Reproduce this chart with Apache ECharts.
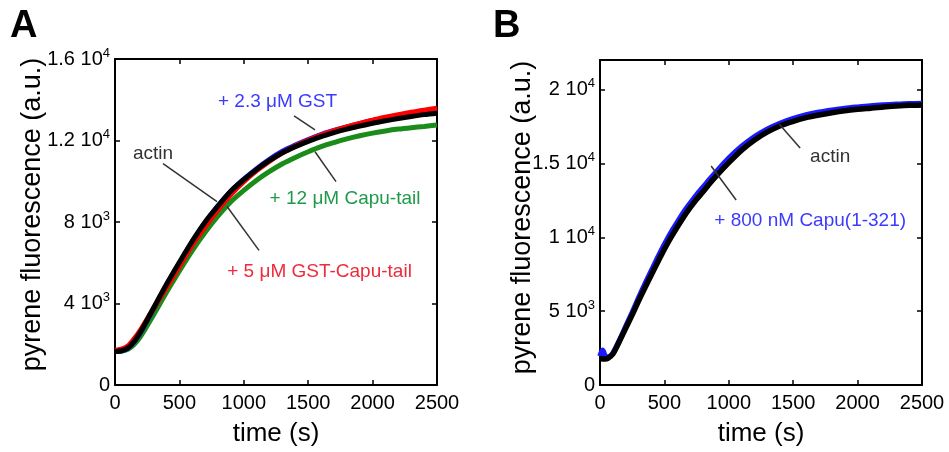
<!DOCTYPE html>
<html><head><meta charset="utf-8">
<script src="https://cdn.jsdelivr.net/npm/echarts@6/dist/echarts.min.js"></script>
<style>html,body{margin:0;padding:0;background:#fff}#c{width:949px;height:452px}</style>
</head><body><div id="c"></div>
<script>
// ---------- Panel A data ----------
const timeA = [0,50,100,150,200,300,400,500,600,700,800,900,1000,1100,1200,1300,1400,1500,1600,1700,1800,1900,2000,2100,2200,2300,2400,2500];
const actinA    = [1650,1680,1820,2150,2620,3790,4940,6020,7060,8000,8790,9520,10080,10580,11020,11400,11700,11960,12190,12390,12560,12710,12850,12970,13080,13180,13270,13340];
const gstA      = [1650,1680,1810,2130,2600,3740,4900,5980,7040,7970,8790,9510,10100,10620,11080,11470,11780,12050,12290,12490,12670,12830,12980,13110,13230,13340,13440,13520];
const gstCapuA  = [1700,1760,1920,2280,2720,3760,4780,5820,6860,7760,8600,9350,9980,10520,10990,11390,11730,12010,12260,12480,12670,12840,13000,13140,13270,13390,13490,13580];
const capuA     = [1650,1660,1750,2000,2400,3450,4550,5600,6600,7500,8300,9000,9550,10050,10480,10860,11170,11450,11700,11900,12080,12230,12360,12470,12560,12630,12690,12760];
const yTicksA = [0,4000,8000,12000,16000];
const yTickTextA = [['0',''],['4 10','3'],['8 10','3'],['1.2 10','4'],['1.6 10','4']];

// ---------- Panel B data ----------
const timeB = [0,20,40,60,100,150,200,250,300,350,400,450,500,550,600,650,700,750,800,850,900,1000,1100,1200,1300,1400,1500,1600,1700,1800,1900,2000,2100,2200,2300,2400,2500];
const actinB = [1800,1760,1760,1800,2100,2950,3850,4750,5700,6600,7480,8350,9200,9980,10700,11380,12000,12570,13080,13620,14120,15050,15900,16580,17130,17550,17850,18100,18280,18430,18560,18660,18740,18820,18880,18930,18960];
const capuB  = [1950,2350,1950,1900,2150,3000,3950,4900,5900,6850,7750,8650,9500,10300,11000,11700,12300,12870,13380,13900,14400,15350,16150,16800,17320,17720,18030,18280,18460,18600,18720,18810,18890,18950,19000,19040,19060];
const yTicksB = [0,5000,10000,15000,20000];
const yTickTextB = [['0',''],['5 10','3'],['1 10','4'],['1.5 10','4'],['2 10','4']];

const xTicks = [0,500,1000,1500,2000,2500];

// annotations: [text, colour, text centre, leader from, leader to] (data coordinates)
const annA = [
  ['+ 2.3 μM GST', '#3b3bff', [1262,13896], [1390,13211], [1553,12526]],
  ['actin', '#333333', [295,11352], [373,10862], [792,9003]],
  ['+ 12 μM Capu-tail', '#1f9a4a', [1786,9150], [1716,9982], [1553,11450]],
  ['+ 5 μM GST-Capu-tail', '#ee2b3b', [1588,5578], [1118,6606], [870,8758]]
];
const annB = [
  ['actin', '#333333', [1787,15434], [1391,17668], [1554,16043]],
  ['+ 800 nM Capu(1-321)', '#3b3bff', [1632,11101], [863,14825], [1057,12523]]
];

const FONT = 'Liberation Sans, Arial, sans-serif';
const zip = (t, v) => t.map((x, i) => [x, v[i]]);

function yFormatter(ticks, texts) {
  return function (v) {
    const i = ticks.indexOf(v);
    if (i < 0) return '';
    const p = texts[i];
    return p[1] ? '{b|' + p[0] + '}{s|' + p[1] + '}' : '{b|' + p[0] + '}';
  };
}
const rich = {
  b: {fontSize: 20, fontFamily: FONT, color: '#000'},
  s: {fontSize: 13, fontFamily: FONT, color: '#000', padding: [0, 0, 12, 0]}
};

function axesFor(g, ymax, yint, yTicks, yText, yGap, yPad) {
  const line = {show: true, lineStyle: {color: '#000', width: 2}, onZero: false};
  const tick = {show: true, inside: true, length: 5, lineStyle: {color: '#000', width: 1.5}};
  return {
    x: [
      {gridIndex: g, type: 'value', min: 0, max: 2500, interval: 500, position: 'bottom',
       axisLine: line, axisTick: tick, splitLine: {show: false},
       axisLabel: {fontSize: 20, fontFamily: FONT, color: '#000', margin: 8,
                   formatter: v => xTicks.indexOf(v) >= 0 ? String(v) : ''},
       name: 'time (s)', nameLocation: 'middle', nameGap: 36, nameMoveOverlap: false,
       nameTextStyle: {fontSize: 26, fontFamily: FONT, color: '#000'}},
      {gridIndex: g, type: 'value', min: 0, max: 2500, interval: 500, position: 'top',
       axisLine: line, axisTick: tick, splitLine: {show: false}, axisLabel: {show: false}}
    ],
    y: [
      {gridIndex: g, type: 'value', min: 0, max: ymax, interval: yint, position: 'left',
       axisLine: line, axisTick: tick, splitLine: {show: false},
       axisLabel: {margin: 5, formatter: yFormatter(yTicks, yText), rich: rich},
       name: 'pyrene fluorescence (a.u.)', nameLocation: 'middle', nameGap: yGap, nameMoveOverlap: false,
       nameTextStyle: {fontSize: 27, fontFamily: FONT, color: '#000', padding: [0, 0, 0, yPad]}},
      {gridIndex: g, type: 'value', min: 0, max: ymax, interval: yint, position: 'right',
       axisLine: line, axisTick: tick, splitLine: {show: false}, axisLabel: {show: false}}
    ]
  };
}

const A = axesFor(0, 16000, 4000, yTicksA, yTickTextA, 69, 15);
const B = axesFor(1, 22000, 5000, yTicksB, yTickTextB, 64, 10);

function annSeries(ann, xi, yi) {
  return {
    type: 'line', xAxisIndex: xi, yAxisIndex: yi, data: [], silent: true, z: 10,
    markLine: {silent: true, symbol: 'none', animation: false, label: {show: false},
      lineStyle: {color: '#333', width: 1.5, type: 'solid'},
      data: ann.map(a => [{coord: a[3]}, {coord: a[4]}])},
    markPoint: {silent: true, symbol: 'circle', symbolSize: 0, animation: false,
      data: ann.map(a => ({coord: a[2], value: 0,
        label: {show: true, position: 'inside', formatter: a[0], color: a[1], fontSize: 19, fontFamily: FONT}}))}
  };
}

function trace(t, v, color, xi, yi, w) {
  return {type: 'line', xAxisIndex: xi, yAxisIndex: yi, data: zip(t, v), showSymbol: false,
    smooth: 0.3,
    lineStyle: {color: color, width: w}, itemStyle: {color: color}, animation: false, silent: true};
}

const chart = echarts.init(document.getElementById('c'), null, {renderer: 'canvas'});
chart.setOption({
  backgroundColor: '#fff',
  animation: false,
  grid: [
    {left: 115, top: 59, width: 322, height: 327},
    {left: 600, top: 60, width: 322, height: 325}
  ],
  xAxis: [A.x[0], A.x[1], B.x[0], B.x[1]],
  yAxis: [A.y[0], A.y[1], B.y[0], B.y[1]],
  graphic: [
    {type: 'text', left: 10, top: 8, style: {text: 'A', font: 'bold 38px ' + FONT, fill: '#000'}},
    {type: 'text', left: 493, top: 8, style: {text: 'B', font: 'bold 38px ' + FONT, fill: '#000'}}
  ],
  series: [
    trace(timeA, capuA, '#1a8c1a', 0, 0, 5),
    trace(timeA, gstA, '#1a1aff', 0, 0, 5),
    trace(timeA, gstCapuA, '#ff0000', 0, 0, 5),
    trace(timeA, actinA, '#000000', 0, 0, 5),
    annSeries(annA, 0, 0),
    trace(timeB, capuB, '#1a1aff', 2, 2, 5.5),
    trace(timeB, actinB, '#000000', 2, 2, 5.5),
    annSeries(annB, 2, 2)
  ]
});
</script></body></html>
